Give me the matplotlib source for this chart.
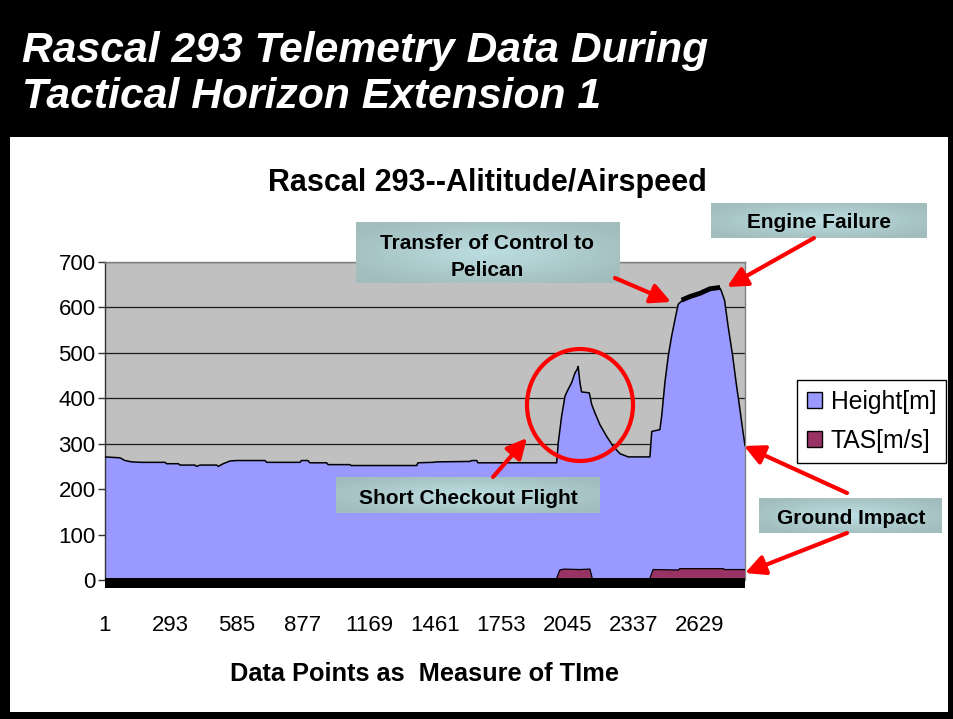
import numpy as np
import matplotlib
matplotlib.use("Agg")
import matplotlib.pyplot as plt
from matplotlib.patches import Rectangle, Ellipse, FancyArrowPatch, Patch
from matplotlib.transforms import Affine2D

# ---------------- data ----------------
height_idx = [1, 69, 91, 121, 165, 268, 275, 327, 334, 400, 408, 422, 496, 503,
              525, 555, 585, 710, 717, 864, 870, 899, 908, 982, 988, 1085, 1090,
              1380, 1385, 1452, 1468, 1615, 1623, 1645, 1650, 1998, 2005, 2020,
              2035, 2049, 2064, 2079, 2089, 2093, 2101, 2108, 2142, 2153, 2167,
              2189, 2219, 2248, 2278, 2314, 2410, 2418, 2454, 2462, 2476, 2491,
              2506, 2521, 2535, 2550, 2587, 2631, 2675, 2720, 2725, 2740, 2755,
              2775, 2792, 2807, 2820, 2830]
height_m = [271, 269, 263, 260, 259, 259, 256, 256, 253, 253, 250, 253, 253, 250,
            256, 262, 263, 263, 259, 259, 263, 263, 258, 258, 254, 254, 252,
            252, 258, 259, 260, 261, 263, 263, 258, 258, 302, 361,
            405, 420, 434, 456, 464, 470, 434, 414, 412, 386, 368,
            342, 316, 294, 278, 271, 271, 327, 331, 361, 434, 493,
            537, 574, 607, 614, 622, 629, 639, 642, 637, 615, 560,
            495, 430, 378, 330, 296]

tas_idx = [1, 1995, 2012, 2030, 2100, 2145, 2157, 2407, 2424, 2535, 2542, 2734,
           2740, 2830]
tas_ms = [0, 0, 22, 24, 23, 24, 0, 0, 23, 22, 25, 25, 23, 23]

tick_pos = [1, 293, 585, 877, 1169, 1461, 1753, 2045, 2337, 2629]
tick_lab = [str(t) for t in tick_pos]
y_ticks = [0, 100, 200, 300, 400, 500, 600, 700]

main_title_lines = ["Rascal 293 Telemetry Data During", "Tactical Horizon Extension 1"]
chart_title = "Rascal 293--Alititude/Airspeed"
x_label = "Data Points as  Measure of TIme"
series_names = ["Height[m]", "TAS[m/s]"]

# ---------------- figure ----------------
W, H = 954, 719
FONT = "Liberation Sans"
plt.rcParams['font.family'] = [FONT, 'DejaVu Sans']
fig = plt.figure(figsize=(W / 100, H / 100), dpi=100, facecolor="black")
px = Affine2D().scale(1.0 / W, -1.0 / H).translate(0, 1) + fig.transFigure

# white panel
fig.add_artist(Rectangle((10, 137), 938, 575, transform=px, facecolor="white",
                         edgecolor="none", zorder=-10))

# main title
fig.text(22 / W, 1 - 62 / H, main_title_lines[0], color="white",
         fontsize=30.7, fontweight="bold", style="italic", va="baseline", ha="left")
fig.text(22 / W, 1 - 108 / H, main_title_lines[1], color="white",
         fontsize=30.7, fontweight="bold", style="italic", va="baseline", ha="left")

# axes
L, R, T, B = 104.6, 745, 262, 580
ax = fig.add_axes([L / W, 1 - B / H, (R - L) / W, (B - T) / H])
ax.set_facecolor("#C0C0C0")

# spines first (repositioning a spine resets its ticks)
for s in ["top", "right"]:
    ax.spines[s].set_color("#808080")
    ax.spines[s].set_linewidth(1)
ax.spines["left"].set_color("#333333")
ax.spines["left"].set_linewidth(1)
ax.spines["bottom"].set_position(("outward", 2.2))
ax.spines["bottom"].set_color("black")
ax.spines["bottom"].set_linewidth(7.2)
ax.spines["bottom"].set_capstyle("butt")
ax.spines["bottom"].set_zorder(6)

ax.set_xlim(1, 2830)
ax.set_ylim(0, 700)

h_idx = np.array(height_idx)
h_val = np.array(height_m)
ax.fill_between(h_idx, 0, h_val, facecolor="#9999FF", edgecolor="none", zorder=2)
ax.plot(h_idx, h_val, color="black", lw=1.1, zorder=3)
cruise = (h_idx >= 2540) & (h_idx <= 2722)
ax.plot(h_idx[cruise], h_val[cruise] + 2, color="black", lw=3.5, zorder=3,
        solid_capstyle="butt")

t_idx = np.array(tas_idx)
t_val = np.array(tas_ms)
ax.fill_between(t_idx, 0, t_val, facecolor="#993366", edgecolor="none", zorder=4)
ax.plot(t_idx, t_val, color="black", lw=0.9, zorder=5)

ax.set_yticks(y_ticks)
ax.set_yticklabels([str(v) for v in y_ticks], fontsize=16)
ax.set_xticks(tick_pos)
ax.set_xticklabels(tick_lab, fontsize=16)
ax.yaxis.grid(True, color="#1a1a1a", lw=0.9)
ax.set_axisbelow(True)
ax.tick_params(axis="y", direction="out", length=5, width=1, color="#333333", pad=1.5)
ax.tick_params(axis="x", length=0, pad=23)

# chart title and x label
fig.text(487 / W, 1 - 191 / H, chart_title, fontsize=22, fontweight="bold",
         ha="center", va="baseline")
fig.text(425 / W, 1 - 681 / H, x_label, fontsize=18.3, fontweight="bold",
         ha="center", va="baseline")

# legend
handles = [Patch(facecolor="#9999FF", edgecolor="black", label=series_names[0]),
           Patch(facecolor="#993366", edgecolor="black", label=series_names[1])]
leg = ax.legend(handles=handles, loc="upper left",
                bbox_to_anchor=(797 / W, 1 - 380 / H), bbox_transform=fig.transFigure,
                frameon=True, fancybox=False, edgecolor="black", framealpha=1,
                fontsize=17.8, handlelength=0.62, handleheight=0.62,
                handletextpad=0.35, borderpad=0.4, labelspacing=0.6,
                borderaxespad=0)
leg.get_frame().set_linewidth(1)

# annotation boxes with soft radial gradient
yy, xx = np.mgrid[-1:1:60j, -1:1:120j]
rr = np.clip(np.sqrt(xx ** 2 + yy ** 2) / 1.2, 0, 1)
c_center = np.array([0xBC, 0xDE, 0xE2]) / 255.0
c_edge = np.array([0xA2, 0xBD, 0xBD]) / 255.0
grad = c_center[None, None, :] * (1 - rr[..., None]) + c_edge[None, None, :] * rr[..., None]


def note_box(x0, y0, x1, y1, lines, centers):
    bax = fig.add_axes([x0 / W, 1 - y1 / H, (x1 - x0) / W, (y1 - y0) / H])
    bax.imshow(grad, aspect="auto", extent=(0, 1, 0, 1), interpolation="bilinear")
    bax.set_axis_off()
    for txt, (cx, cy) in zip(lines, centers):
        fig.text(cx / W, 1 - cy / H, txt, fontsize=15, fontweight="bold",
                 ha="center", va="center_baseline", zorder=20)


note_box(356, 222, 619, 283, ["Transfer of Control to", "Pelican"],
         [(487, 241), (487, 268)])
note_box(711, 203, 927, 238, ["Engine Failure"], [(819, 221)])
note_box(336, 477, 600, 513, ["Short Checkout Flight"], [(468, 496)])
note_box(759, 498, 942, 533, ["Ground Impact"], [(851, 516)])

# red arrows
arrows = [((615, 278), (671, 302)),
          ((814, 238), (727, 287)),
          ((493, 477), (527, 438)),
          ((847, 493), (744, 446)),
          ((847, 533), (745, 573))]
for (a, b) in arrows:
    fig.add_artist(FancyArrowPatch(a, b, transform=px, color="#FF0000",
                                   arrowstyle="-|>,head_length=0.6,head_width=0.3",
                                   mutation_scale=20, lw=3, shrinkA=0, shrinkB=0,
                                   zorder=15))

# red circle
fig.add_artist(Ellipse((580, 405), 106, 112, transform=px, facecolor="none",
                       edgecolor="#FF0000", lw=3, zorder=15))

fig.savefig("out.png", dpi=100, facecolor="black")
